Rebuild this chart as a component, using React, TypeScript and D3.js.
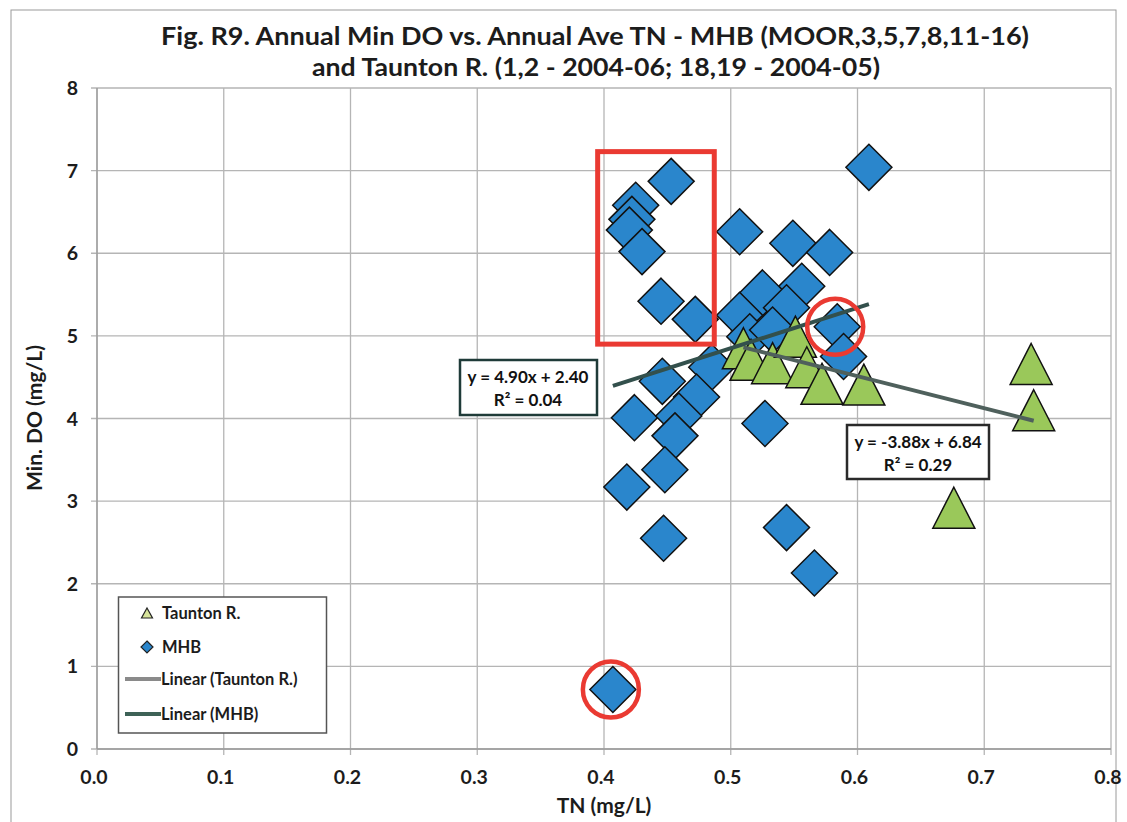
import React from "react";
import * as d3 from "d3";

const xTicks = [0, 0.1, 0.2, 0.3, 0.4, 0.5, 0.6, 0.7, 0.8];
const yTicks = [0, 1, 2, 3, 4, 5, 6, 7, 8];

const mhbTN = [0.609, 0.453, 0.425, 0.422, 0.420, 0.430, 0.507, 0.549, 0.578, 0.445, 0.472, 0.556, 0.525, 0.544, 0.507, 0.515, 0.533, 0.584, 0.589, 0.485, 0.446, 0.473, 0.424, 0.459, 0.456, 0.527, 0.448, 0.418, 0.447, 0.544, 0.566, 0.407];
const mhbDO = [7.04, 6.87, 6.58, 6.41, 6.28, 6.02, 6.26, 6.12, 6.01, 5.42, 5.20, 5.60, 5.52, 5.34, 5.25, 4.99, 5.07, 5.11, 4.75, 4.62, 4.45, 4.26, 4.01, 4.03, 3.79, 3.94, 3.38, 3.17, 2.55, 2.68, 2.13, 0.72];

const tauntonTN = [0.510, 0.516, 0.533, 0.551, 0.560, 0.572, 0.605, 0.676, 0.737, 0.739];
const tauntonDO = [4.85, 4.71, 4.67, 4.99, 4.62, 4.42, 4.41, 2.92, 4.66, 4.10];

const mhbFit = { slope: 4.90, intercept: 2.40, r2: 0.04 };
const tauntonFit = { slope: -3.88, intercept: 6.84, r2: 0.29 };

const titleLines = [
  "Fig. R9. Annual Min DO vs. Annual Ave TN - MHB (MOOR,3,5,7,8,11-16)",
  "and Taunton R. (1,2 - 2004-06; 18,19 - 2004-05)",
];
const legendItems = ["Taunton R.", "MHB", "Linear (Taunton R.)", "Linear (MHB)"];

// annotation: red rectangle (data units) and circled points (indices into mhb)
const redRect = { x0: 0.395, x1: 0.487, y0: 4.9, y1: 7.23 };
const circled = [17, 31];

const FONT = "Lato, 'Open Sans', sans-serif";

export default function App() {
  const x = d3.scaleLinear().domain([0, 0.8]).range([97, 1111]);
  const y = d3.scaleLinear().domain([0, 8]).range([749, 88]);

  const mhb = mhbTN.map((t, i) => ({ t, d: mhbDO[i] }));
  const taunton = tauntonTN.map((t, i) => ({ t, d: tauntonDO[i] }));

  const diamond = (cx: number, cy: number, r: number) =>
    `M${cx},${cy - r}L${cx + r},${cy}L${cx},${cy + r}L${cx - r},${cy}Z`;
  const tri = (cx: number, cy: number, w: number, h: number) =>
    `M${cx},${cy - h / 2}L${cx + w / 2},${cy + h / 2}L${cx - w / 2},${cy + h / 2}Z`;

  const fitLine = (fit: { slope: number; intercept: number }, xs: number[]) => {
    const [a, b] = d3.extent(xs) as [number, number];
    const line = d3.line<number>().x((v) => x(v)).y((v) => y(fit.slope * v + fit.intercept));
    return line([a, b]) || "";
  };

  const blue = "#2a86cc";
  const green = "#9ac85a";
  const txt = "#1c1c1c";

  return (
    <svg width={1127} height={822} style={{ position: "absolute", left: 0, top: 0, background: "#fff" }} fontFamily={FONT}>
      <rect x={0} y={0} width={1127} height={822} fill="#fff" />
      <rect x={11} y={10} width={1105} height={830} fill="none" stroke="#9a9a9a" strokeWidth={1} />

      {/* title */}
      <text x={595} y={45} textAnchor="middle" fontSize={24} fontWeight={700} fill={txt} textLength={868} lengthAdjust="spacingAndGlyphs">{titleLines[0]}</text>
      <text x={596} y={76} textAnchor="middle" fontSize={24} fontWeight={700} fill={txt} textLength={568} lengthAdjust="spacingAndGlyphs">{titleLines[1]}</text>

      {/* grid */}
      {xTicks.map((t) => (
        <line key={"gx" + t} x1={x(t)} x2={x(t)} y1={y(8)} y2={y(0) + 6} stroke="#b5b5b5" strokeWidth={1.3} />
      ))}
      {yTicks.map((t) => (
        <line key={"gy" + t} x1={x(0) - 6} x2={x(0.8)} y1={y(t)} y2={y(t)} stroke="#b5b5b5" strokeWidth={1.3} />
      ))}
      <line x1={x(0)} x2={x(0)} y1={y(8)} y2={y(0)} stroke="#9a9a9a" strokeWidth={1.3} />
      <line x1={x(0)} x2={x(0.8)} y1={y(0)} y2={y(0)} stroke="#9a9a9a" strokeWidth={1.3} />

      {/* tick labels */}
      {yTicks.map((t) => (
        <text key={"ly" + t} x={78} y={y(t) + 7} textAnchor="end" fontSize={19.5} fontWeight={700} fill={txt}>{t}</text>
      ))}
      {xTicks.map((t) => (
        <text key={"lx" + t} x={x(t) - 3} y={784} textAnchor="middle" fontSize={19.5} fontWeight={700} fill={txt}>{d3.format(".1f")(t)}</text>
      ))}
      <text x={604} y={813} textAnchor="middle" fontSize={21} fontWeight={700} fill={txt}>TN (mg/L)</text>
      <text transform={`translate(42,418) rotate(-90)`} textAnchor="middle" fontSize={21} fontWeight={700} fill={txt}>Min. DO (mg/L)</text>

      {/* markers */}
      {mhb.map((p, i) => (
        <path key={"m" + i} d={diamond(x(p.t), y(p.d), 23)} fill={blue} stroke="#111" strokeWidth={1.5} />
      ))}
      {taunton.map((p, i) => (
        <path key={"t" + i} d={tri(x(p.t), y(p.d), 42, 41)} fill={green} stroke="#111" strokeWidth={1.5} />
      ))}

      {/* trend lines */}
      <path d={fitLine(tauntonFit, tauntonTN)} stroke="#4f605c" strokeWidth={4} fill="none" />
      <path d={fitLine(mhbFit, mhbTN)} stroke="#33504c" strokeWidth={4} fill="none" />

      {/* equation boxes */}
      <rect x={460} y={360} width={137} height={55} fill="#fff" stroke="#1f3b38" strokeWidth={2.5} />
      <text x={528} y={383} textAnchor="middle" fontSize={17} fontWeight={700} fill="#111">{`y = ${mhbFit.slope.toFixed(2)}x + ${mhbFit.intercept.toFixed(2)}`}</text>
      <text x={528} y={406} textAnchor="middle" fontSize={17} fontWeight={700} fill="#111">{`R² = ${mhbFit.r2.toFixed(2)}`}</text>

      <rect x={847} y={425} width={142} height={54} fill="#fff" stroke="#2a2a2a" strokeWidth={2.5} />
      <text x={918} y={448} textAnchor="middle" fontSize={17} fontWeight={700} fill="#111">{`y = ${tauntonFit.slope.toFixed(2)}x + ${tauntonFit.intercept.toFixed(2)}`}</text>
      <text x={918} y={471} textAnchor="middle" fontSize={17} fontWeight={700} fill="#111">{`R² = ${tauntonFit.r2.toFixed(2)}`}</text>

      {/* red annotations */}
      <rect x={x(redRect.x0)} y={y(redRect.y1)} width={x(redRect.x1) - x(redRect.x0)} height={y(redRect.y0) - y(redRect.y1)} fill="none" stroke="#ea3a32" strokeWidth={5} />
      {circled.map((i) => (
        <circle key={"c" + i} cx={x(mhbTN[i]) - 2} cy={y(mhbDO[i])} r={28} fill="none" stroke="#ea3a32" strokeWidth={4.5} />
      ))}

      {/* legend */}
      <rect x={118.5} y={597} width={208} height={136} fill="#fff" stroke="#555" strokeWidth={1.5} />
      <path d={tri(147, 613, 11, 10)} fill="#d6e39a" stroke="#222" strokeWidth={1.2} />
      <text x={162} y={619} fontSize={16.5} fontWeight={700} fill={txt}>{legendItems[0]}</text>
      <path d={diamond(147, 647, 6)} fill={blue} stroke="#222" strokeWidth={1.2} />
      <text x={162} y={653} fontSize={16.5} fontWeight={700} fill={txt}>{legendItems[1]}</text>
      <line x1={125} x2={161} y1={679} y2={679} stroke="#8a8a8a" strokeWidth={4} />
      <text x={161} y={685} fontSize={16.5} fontWeight={700} fill={txt}>{legendItems[2]}</text>
      <line x1={125} x2={161} y1={714} y2={714} stroke="#3e6257" strokeWidth={4} />
      <text x={161} y={720} fontSize={16.5} fontWeight={700} fill={txt}>{legendItems[3]}</text>
    </svg>
  );
}
